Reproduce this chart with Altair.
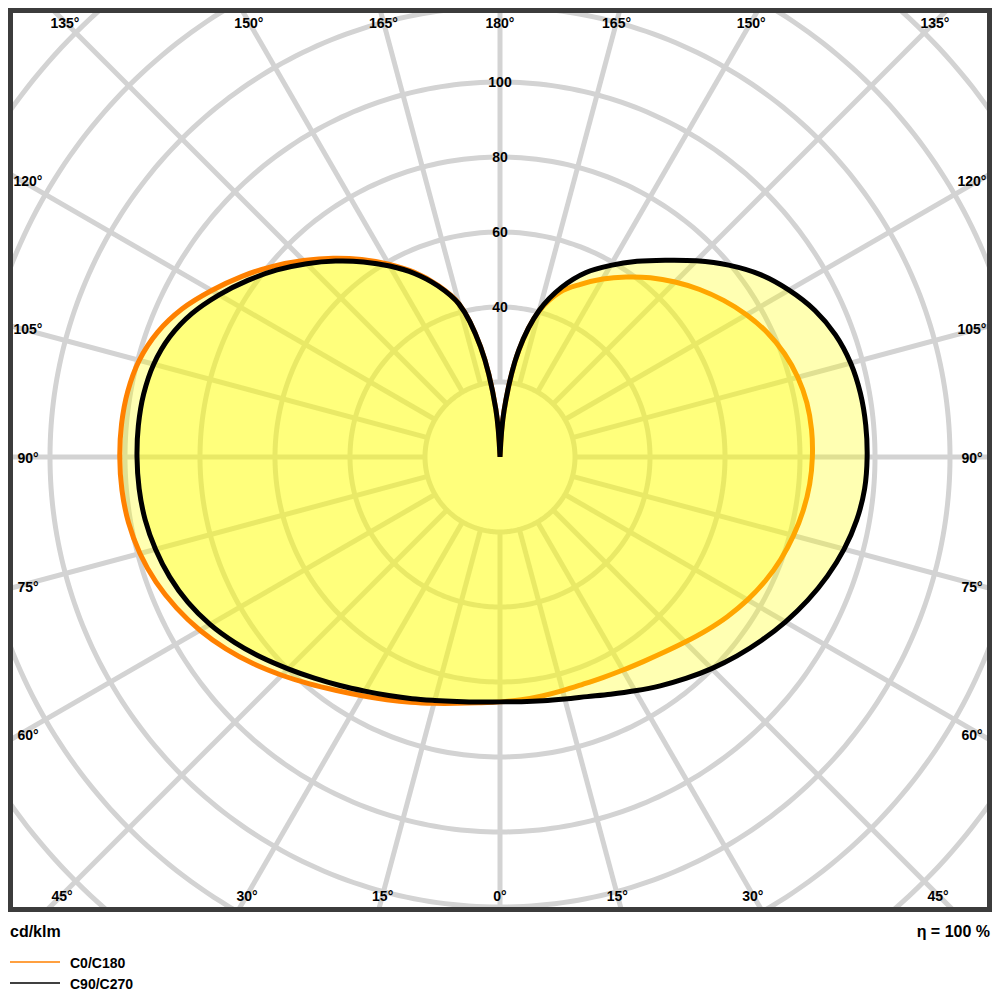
import math
import pandas as pd
import altair as alt

# ---------------- data (cd/klm), gamma measured from nadir ----------------
GAMMA = [0, 5, 10, 15, 20, 25, 30, 35, 40, 45, 50, 55, 60, 65, 70, 75, 80, 85, 90,
         95, 100, 105, 110, 115, 120, 125, 130, 135, 140, 145, 150, 155, 160, 165,
         170, 175, 180]
C0 = [65.3, 65.0, 64.7, 64.5, 64.5, 64.9, 65.6, 66.6, 68.0, 69.8, 71.9, 74.1, 76.2,
      78.1, 79.7, 81.0, 82.1, 82.9, 83.3, 83.4, 83.1, 82.2, 80.7, 78.6, 75.9, 72.8,
      69.5, 66.0, 62.4, 58.6, 54.8, 50.8, 46.8, 40.3, 28.8, 12.3, 0.0]
C180 = [65.3, 65.8, 66.7, 68.0, 69.6, 71.4, 73.5, 76.0, 79.0, 82.3, 85.8, 89.2, 92.4,
        95.2, 97.6, 99.4, 100.6, 101.2, 101.4, 101.3, 100.8, 99.6, 97.2, 93.5, 88.8,
        84.0, 79.1, 74.1, 69.2, 64.3, 59.4, 54.4, 48.8, 42.3, 29.8, 12.8, 0.0]
C90 = [65.3, 65.5, 66.0, 66.8, 68.0, 69.8, 72.0, 74.5, 77.1, 79.8, 82.5, 85.2, 87.9,
       90.5, 92.9, 95.0, 96.6, 97.6, 97.9, 97.9, 97.6, 96.8, 95.2, 92.6, 89.0, 84.8,
       79.6, 74.0, 68.5, 63.7, 59.0, 54.3, 48.2, 40.5, 29.0, 12.5, 0.0]
C270 = [65.3, 65.6, 66.2, 67.2, 68.6, 70.2, 72.1, 74.4, 77.0, 79.9, 83.1, 86.3, 89.3,
        91.8, 93.7, 95.1, 96.1, 96.6, 96.8, 96.8, 96.5, 95.6, 93.7, 90.6, 86.5, 82.1,
        77.6, 72.9, 68.2, 63.5, 58.8, 54.0, 48.6, 42.2, 29.8, 12.8, 0.0]

RING_VALUES = [20, 40, 60, 80, 100, 120, 140, 160, 180]
RING_LABELS = [40, 60, 80, 100]
SPOKE_ANGLES = list(range(0, 360, 15))
TOP_ANGLES = [135, 150, 165, 180]
SIDE_ANGLES = [120, 105, 90, 75, 60]
BOTTOM_ANGLES = [45, 30, 15, 0]

SERIES = ["C0/C180", "C90/C270"]
SERIES_COLORS = ["#ff8000", "#000000"]
UNIT_TEXT = "cd/klm"
ETA_TEXT = "η = 100 %"

# ---------------- layout ----------------
W, H = 984, 904
PX = 3.75
CX, CY = 492, 449
XDOM = [-CX / PX, (W - CX) / PX]
YDOM = [-(H - CY) / PX, CY / PX]
FONT = "Liberation Sans"
GRID = "#d3d3d3"

xs = alt.Scale(domain=XDOM, nice=False, zero=False)
ys = alt.Scale(domain=YDOM, nice=False, zero=False)
X = lambda f: alt.X(f, type="quantitative", scale=xs, axis=None)
Y = lambda f: alt.Y(f, type="quantitative", scale=ys, axis=None)


def outline(left, right):
    rows = []
    k = 0
    for g, r in zip(reversed(GAMMA), reversed(left)):
        t = math.radians(g)
        rows.append({"i": k, "x": -r * math.sin(t), "y": -r * math.cos(t)}); k += 1
    for g, r in zip(GAMMA[1:], right[1:]):
        t = math.radians(g)
        rows.append({"i": k, "x": r * math.sin(t), "y": -r * math.cos(t)}); k += 1
    return pd.DataFrame(rows)


# grid rings
ring_rows = []
for rv in RING_VALUES:
    for j in range(361):
        t = math.radians(j)
        ring_rows.append({"ring": rv, "i": j, "x": rv * math.cos(t), "y": rv * math.sin(t)})
rings = alt.Chart(pd.DataFrame(ring_rows)).mark_line(
    color=GRID, strokeWidth=5, clip=True
).encode(x=X("x"), y=Y("y"), detail="ring:N", order="i:Q")

# spokes (start at the first ring)
spoke_rows = []
for a in SPOKE_ANGLES:
    t = math.radians(a)
    spoke_rows.append({"x": 20 * math.sin(t), "y": -20 * math.cos(t),
                       "x2": 260 * math.sin(t), "y2": -260 * math.cos(t)})
spokes = alt.Chart(pd.DataFrame(spoke_rows)).mark_rule(
    color=GRID, strokeWidth=5, clip=True
).encode(x=X("x"), y=Y("y"), x2="x2:Q", y2="y2:Q")


def shape(left, right, color):
    return alt.Chart(outline(left, right)).mark_line(
        fill="#ffff00", fillOpacity=0.3, stroke=color, strokeWidth=5,
        interpolate="catmull-rom", clip=True
    ).encode(x=X("x"), y=Y("y"), order="i:Q")


orange = shape(C180, C0, SERIES_COLORS[0])
black = shape(C270, C90, SERIES_COLORS[1])

# radial value labels
rlab = alt.Chart(pd.DataFrame({"r": RING_LABELS, "x": [0] * len(RING_LABELS)})).mark_text(
    font=FONT, fontSize=14, fontWeight="bold", color="black", baseline="middle", align="center", dy=1
).encode(x=X("x"), y=Y("r"), text="r:Q")

# angle labels
lab_rows = []
ytop = 116.0
for a in TOP_ANGLES:
    off = ytop * math.tan(math.radians(180 - a))
    lab_rows.append({"t": f"{a}°", "x": -off, "y": ytop, "d": 0})
    if a != 180:
        lab_rows.append({"t": f"{a}°", "x": off, "y": ytop, "d": 0})
xside = 128.0
for a in SIDE_ANGLES:
    yy = xside * math.tan(math.radians(a - 90))
    lab_rows.append({"t": f"{a}°", "x": -xside, "y": yy, "d": 8})
    lab_rows.append({"t": f"{a}°", "x": xside, "y": yy, "d": -8})
ybot = -116.8
for a in BOTTOM_ANGLES:
    off = -ybot * math.tan(math.radians(a))
    lab_rows.append({"t": f"{a}°", "x": -off, "y": ybot, "d": 0})
    if a != 0:
        lab_rows.append({"t": f"{a}°", "x": off, "y": ybot, "d": 0})
labdf = pd.DataFrame(lab_rows)
alabs = []
for dval in sorted(labdf["d"].unique()):
    sub = labdf[labdf["d"] == dval]
    alabs.append(alt.Chart(sub).mark_text(
        font=FONT, fontSize=14, fontWeight="bold", color="black",
        baseline="middle", align="center", dx=float(dval), dy=2
    ).encode(x=X("x"), y=Y("y"), text="t:N"))

one = pd.DataFrame({"a": [0]})

# frame
border = alt.Chart(one).mark_rect(
    fill="transparent", stroke="#3c3c3c", strokeWidth=5
).encode(x=alt.value(2.5), x2=alt.value(W - 2.5), y=alt.value(2.5), y2=alt.value(H - 2.5))

unit = alt.Chart(one).mark_text(
    font=FONT, fontSize=16, fontWeight="bold", color="black", align="left", baseline="middle"
).encode(x=alt.value(2), y=alt.value(924), text=alt.value(UNIT_TEXT))
eta = alt.Chart(one).mark_text(
    font=FONT, fontSize=16, fontWeight="bold", color="black", align="right", baseline="middle"
).encode(x=alt.value(982), y=alt.value(924), text=alt.value(ETA_TEXT))

legend_layers = []
for k, (name, col) in enumerate(zip(SERIES, SERIES_COLORS)):
    yy = 954 + 21 * k
    legend_layers.append(alt.Chart(one).mark_rule(color=col, strokeWidth=1.5).encode(
        x=alt.value(2), x2=alt.value(52), y=alt.value(yy)))
    legend_layers.append(alt.Chart(one).mark_text(
        font=FONT, fontSize=14, fontWeight="bold", color="black", align="left", baseline="middle"
    ).encode(x=alt.value(62), y=alt.value(yy + 2), text=alt.value(name)))

chart = alt.layer(
    rings, spokes, orange, black, rlab, *alabs, border, unit, eta, *legend_layers
).properties(
    width=W, height=H,
    autosize=alt.AutoSizeParams(type="none"),
    padding={"left": 0, "top": 0, "right": 0, "bottom": 80},
).configure_view(stroke=None)

chart.save("out.html", embed_options={"renderer": "svg", "actions": False})
